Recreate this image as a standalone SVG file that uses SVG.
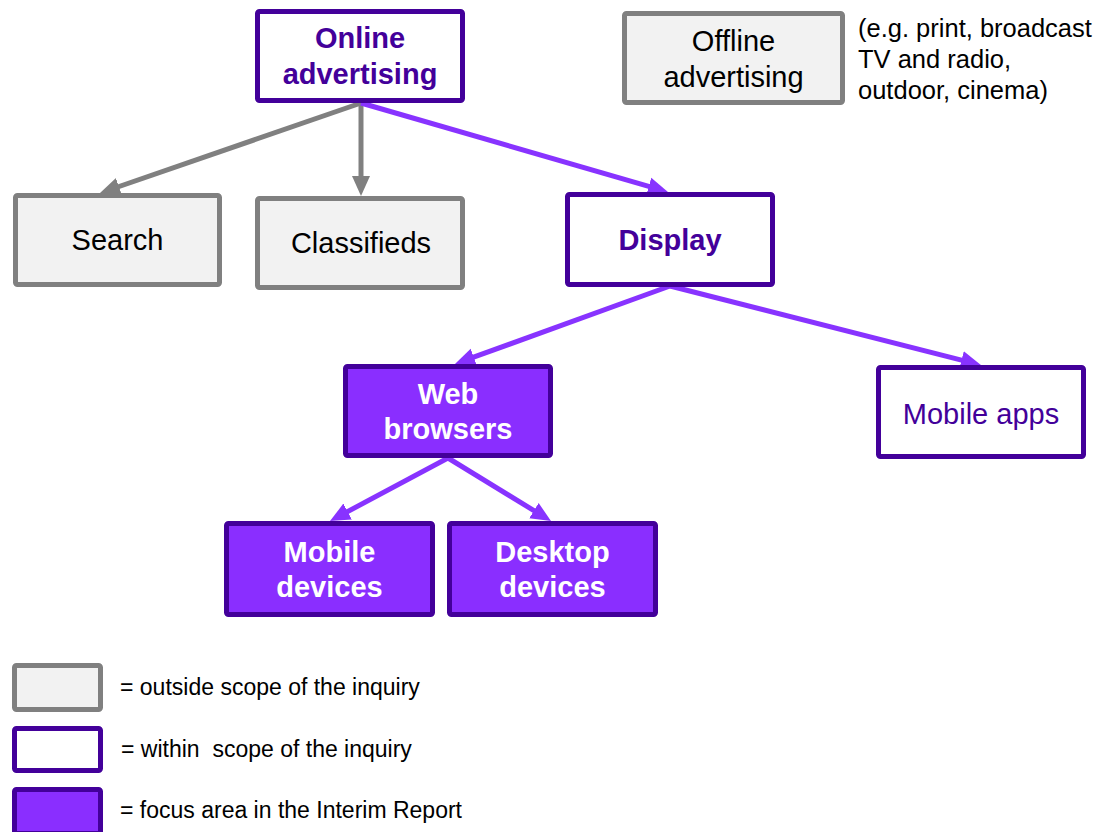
<svg xmlns="http://www.w3.org/2000/svg" width="1105" height="832" viewBox="0 0 1105 832">
<style>
text{font-family:"Liberation Sans",Arial,sans-serif;}
.out rect{fill:#f2f2f2;stroke:#808080;stroke-width:5;}
.in rect{fill:#ffffff;stroke:#43009a;stroke-width:5;}
.focus rect{fill:#8a2eff;stroke:#43009a;stroke-width:5;}
.out text{fill:#000;font-size:29px;text-anchor:middle;}
.in text{fill:#43009a;font-size:29px;text-anchor:middle;}
.focus text{fill:#fff;font-size:29px;font-weight:bold;text-anchor:middle;}
.b{font-weight:bold;}
.gl{stroke:#808080;stroke-width:5;fill:none;marker-end:url(#ag);}
.pl{stroke:#8833ff;stroke-width:5;fill:none;marker-end:url(#ap);}
.note{font-size:25.5px;fill:#000;}
.leg{font-size:23px;fill:#000;}
</style>
<defs>
<marker id="ag" markerUnits="userSpaceOnUse" markerWidth="20" markerHeight="20" viewBox="0 0 20 20" refX="9" refY="10" orient="auto"><path d="M0,1 L20,10 L0,19 z" fill="#808080"/></marker>
<marker id="ap" markerUnits="userSpaceOnUse" markerWidth="20" markerHeight="20" viewBox="0 0 20 20" refX="9" refY="10" orient="auto"><path d="M0,1 L20,10 L0,19 z" fill="#8833ff"/></marker>
</defs>
<rect width="1105" height="832" fill="#fff"/>
<g id="connectors">
<line class="gl" x1="361" y1="103" x2="110.4" y2="189.5"/>
<line class="gl" x1="361" y1="103" x2="361" y2="185"/>
<line class="pl" x1="361" y1="103" x2="657.4" y2="188.9"/>
<line class="pl" x1="670" y1="286" x2="465.3" y2="360.2"/>
<line class="pl" x1="670" y1="286" x2="970.3" y2="362.3"/>
<line class="pl" x1="448" y1="458" x2="339.7" y2="515.8"/>
<line class="pl" x1="448" y1="458" x2="541.6" y2="515.3"/>
</g>
<g id="online" class="in"><rect x="257.5" y="11.5" width="205" height="89" rx="2"/><text x="360" y="48" class="b">Online</text><text x="360" y="84" class="b">advertising</text></g>
<g id="offline" class="out"><rect x="624.5" y="13.5" width="218" height="89" rx="2"/><text x="733.5" y="51">Offline</text><text x="733.5" y="87">advertising</text></g>
<g id="offline-note"><text class="note" x="858" y="37">(e.g. print, broadcast</text><text class="note" x="858" y="68">TV and radio,</text><text class="note" x="858" y="99">outdoor, cinema)</text></g>
<g id="search" class="out"><rect x="15.5" y="195.5" width="204" height="89" rx="2"/><text x="117.5" y="250">Search</text></g>
<g id="classifieds" class="out"><rect x="257.5" y="198.5" width="205" height="89" rx="2"/><text x="361" y="253">Classifieds</text></g>
<g id="display" class="in"><rect x="567.5" y="194.5" width="205" height="90" rx="2"/><text x="670" y="250" class="b">Display</text></g>
<g id="web" class="focus"><rect x="345.5" y="366.5" width="205" height="89" rx="2"/><text x="448" y="404">Web</text><text x="448" y="439">browsers</text></g>
<g id="mobileapps" class="in"><rect x="878.5" y="367.5" width="205" height="89" rx="2"/><text x="981" y="424">Mobile apps</text></g>
<g id="mobiledev" class="focus"><rect x="226.5" y="523.5" width="206" height="91" rx="2"/><text x="329.5" y="562">Mobile</text><text x="329.5" y="597">devices</text></g>
<g id="desktop" class="focus"><rect x="449.5" y="523.5" width="206" height="91" rx="2"/><text x="552.5" y="562">Desktop</text><text x="552.5" y="597">devices</text></g>
<g id="legend-outside" class="out"><rect x="14.5" y="665.5" width="86" height="44" rx="2"/></g>
<text class="leg" x="120" y="695">= outside scope of the inquiry</text>
<g id="legend-within" class="in"><rect x="14.5" y="728.5" width="86" height="42" rx="2"/></g>
<text class="leg" x="121" y="757">= within&#160; scope of the inquiry</text>
<g id="legend-focus" class="focus"><rect x="14.5" y="789.5" width="86" height="44" rx="2"/></g>
<text class="leg" x="120" y="818">= focus area in the Interim Report</text>
</svg>
